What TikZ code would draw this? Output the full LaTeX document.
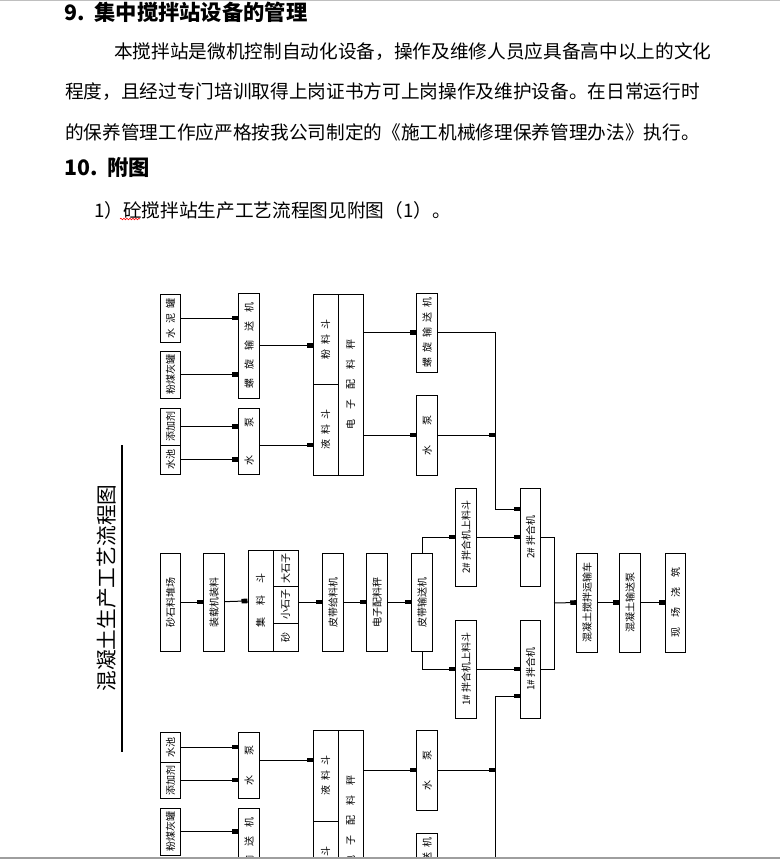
\documentclass[tikz,border=0pt]{standalone}
\usepackage{fontspec}
\setmainfont{Noto Sans CJK SC}
\usepackage{graphicx}
\usepackage{tikz}
\usetikzlibrary{arrows.meta,decorations.pathmorphing}
\newcommand{\boxfont}{\fontsize{10}{12}\selectfont}
\newcommand{\bodyfont}{\fontsize{18.67}{22}\selectfont}
\newcommand{\headfont}{\fontsize{21.3}{24}\selectfont\bfseries}
\newcommand{\titlefont}{\fontsize{20.7}{24}\selectfont}
\newcommand{\vt}[1]{\rotatebox{90}{#1}}
\newcommand{\chgap}[1]{\hspace{#1pt}}
\tikzset{
  vbox/.style={draw,line width=1pt,inner sep=0pt,minimum width=20.5pt,font=\boxfont},
  wbox/.style={vbox,minimum width=25pt},
  arr/.style={-{Rectangle[length=6pt,width=4.6pt]},line width=1pt},
  ln/.style={line width=1pt},
  para/.style={anchor=west,inner sep=0pt,font=\bodyfont},
  head/.style={anchor=west,inner sep=0pt,font=\headfont},
}

\begin{document}
\begin{tikzpicture}[x=1pt,y=1pt]
\useasboundingbox (0,0) rectangle (780,-860);
\fill[white] (0,0) rectangle (780,-860);
\draw[black!25,line width=1pt] (0,-0.5) -- (780,-0.5);
\node[head] (h9) at (64,-12) {9.\ \ 集中搅拌站设备的管理};
\node[para] (p1) at (114,-52) {本搅拌站是微机控制自动化设备，操作及维修人员应具备高中以上的文化};
\node[para] (p2) at (65,-92) {程度，且经过专门培训取得上岗证书方可上岗操作及维护设备。在日常运行时};
\node[para] (p3) at (65,-132) {的保养管理工作应严格按我公司制定的《施工机械修理保养管理办法》执行。};
\node[head] (h10) at (64,-167) {10.\ \ 附图};
\node[para] (item) at (94,-210) {1）砼搅拌站生产工艺流程图见附图（1）。};
\draw[red,line width=0.6pt,decorate,decoration={snake,amplitude=0.8pt,segment length=3pt}] (120,-219) -- (140,-219);

\node[rotate=90,font=\titlefont,inner sep=0pt] (title) at (107,-588) {混凝土生产工艺流程图};
\draw[line width=2.4pt] (122,-445) -- (122,-752);

\begin{scope}
\clip (0,0) rectangle (780,-857);
% upper supply group
\node[vbox,minimum height=48pt] (cementA) at (170.5,-318) {\vt{水\chgap{5}泥\chgap{5}罐}};
\node[vbox,minimum height=47pt] (flyashA) at (170.5,-374.5) {\vt{粉煤灰罐}};
\node[vbox,minimum height=37pt] (addA) at (170.5,-426.5) {\vt{添加剂}};
\node[vbox,minimum height=29pt] (poolA) at (170.5,-459.5) {\vt{水池}};
\node[vbox,minimum height=105pt] (screwA) at (249,-345.5) {\vt{螺\chgap{9}旋\chgap{9}输\chgap{9}送\chgap{9}机}};
\node[vbox,minimum height=66pt] (pumpA) at (249,-441) {\vt{水\chgap{28}泵}};
\node[wbox,minimum height=90pt] (powderA) at (325.5,-339) {\vt{粉\chgap{5}料\chgap{5}斗}};
\node[wbox,minimum height=91pt] (liquidA) at (325.5,-429.5) {\vt{液\chgap{5}料\chgap{5}斗}};
\node[wbox,minimum height=181pt] (scaleA) at (350.5,-384.5) {\vt{电\chgap{10}子\chgap{10}配\chgap{10}料\chgap{10}秤}};
\node[vbox,minimum height=79pt] (screwB) at (427,-332.5) {\vt{螺\chgap{5}旋\chgap{5}输\chgap{5}送\chgap{5}机}};
\node[vbox,minimum height=80pt] (pumpB) at (427,-435) {\vt{水\chgap{20}泵}};
\draw[arr] (cementA.east) -- (cementA.east -| screwA.west);
\draw[arr] (flyashA.east) -- (flyashA.east -| screwA.west);
\draw[arr] (addA.east) -- (addA.east -| pumpA.west);
\draw[arr] (poolA.east) -- (poolA.east -| pumpA.west);
\draw[arr] (screwA.east) -- (screwA.east -| powderA.west);
\draw[arr] ([yshift=-4pt]pumpA.east) -- ([yshift=-4pt]pumpA.east -| liquidA.west);
\draw[arr] (screwB.west -| scaleA.east) -- (screwB.west);
\draw[arr] (pumpB.west -| scaleA.east) -- (pumpB.west);

% aggregate line
\node[vbox,minimum height=98pt] (yard) at (170.5,-602) {\vt{砂石料堆场}};
\node[vbox,minimum height=98pt] (loader) at (214,-602) {\vt{装载机装料}};
\node[wbox,minimum height=101pt] (hopperL) at (260.5,-600.5) {\vt{集\chgap{12}料\chgap{12}斗}};
\node[wbox,minimum height=36pt] (big) at (285.5,-568) {\vt{大石子}};
\node[wbox,minimum height=37pt] (small) at (285.5,-604.5) {\vt{小石子}};
\node[wbox,minimum height=28pt] (sand) at (285.5,-637) {\vt{砂}};
\node[vbox,minimum height=98pt] (feeder) at (333,-602) {\vt{皮带给料机}};
\node[vbox,minimum height=98pt] (scaleM) at (377,-602) {\vt{电子配料秤}};
\node[vbox,minimum height=98pt] (belt) at (422,-602) {\vt{皮带输送机}};
\draw[arr] (yard) -- (loader);\draw[arr] (loader) -- (hopperL);
\draw[arr] (small.east |- feeder) -- (feeder.west);
\draw[arr] (feeder) -- (scaleM);\draw[arr] (scaleM) -- (belt);

% mixers
\node[vbox,minimum height=98pt] (hopper2) at (466,-537) {\vt{2\# 拌合机上料斗}};
\node[vbox,minimum height=98pt] (mixer2) at (530.5,-537) {\vt{2\# 拌合机}};
\node[vbox,minimum height=98pt] (hopper1) at (466,-669) {\vt{1\# 拌合机上料斗}};
\node[vbox,minimum height=98pt] (mixer1) at (530.5,-669) {\vt{1\# 拌合机}};
\node[vbox,minimum height=99pt] (truck) at (587,-602.5) {\vt{混凝土搅拌运输车}};
\node[vbox,minimum height=99pt] (pumpC) at (630,-602.5) {\vt{混凝土输送泵}};
\node[vbox,minimum height=99pt] (site) at (675.5,-602.5) {\vt{现\chgap{10}场\chgap{10}浇\chgap{10}筑}};
\draw[arr] (belt.north) |- (hopper2.west);\draw[arr] (belt.south) |- (hopper1.west);
\draw[arr] (hopper2) -- (mixer2);\draw[arr] (hopper1) -- (mixer1);
\coordinate (busA) at (495,-509);
\coordinate (busB) at (495,-696);
\coordinate (merge) at (554,-603);
\draw[ln] (screwB.east) -| (busA);
\draw[arr] (pumpB.east) -- (pumpB.east -| busA);
\draw[arr] (busA) -- (busA -| mixer2.west);
\draw[arr] (busB) -- (busB -| mixer1.west);
\draw[ln] (mixer2.east) -| (merge);\draw[ln] (mixer1.east) -| (merge);
\draw[arr] (merge) -- (truck.west);
\draw[arr] (truck) -- (pumpC);\draw[arr] (pumpC) -- (site);

% lower supply group
\node[vbox,minimum height=30pt] (poolC) at (170.5,-747) {\vt{水池}};
\node[vbox,minimum height=36pt] (addC) at (170.5,-780) {\vt{添加剂}};
\node[vbox,minimum height=47pt] (flyashC) at (170.5,-831.5) {\vt{粉煤灰罐}};
\node[vbox,minimum height=66pt] (pumpD) at (249,-765) {\vt{水\chgap{20}泵}};
\node[vbox,minimum height=105pt] (screwD) at (249,-860.5) {\vt{螺\chgap{9}旋\chgap{9}输\chgap{9}送\chgap{9}机}};
\node[wbox,minimum height=91pt] (liquidC) at (325.5,-775.5) {\vt{液\chgap{5}料\chgap{5}斗}};
\node[wbox,minimum height=90pt] (powderC) at (325.5,-866) {\vt{粉\chgap{5}料\chgap{5}斗}};
\node[wbox,minimum height=181pt] (scaleC) at (350.5,-820.5) {\vt{电\chgap{10}子\chgap{10}配\chgap{10}料\chgap{10}秤}};
\node[vbox,minimum height=80pt] (pumpE) at (427,-770) {\vt{水\chgap{20}泵}};
\node[vbox,minimum height=79pt] (screwE) at (427,-872.5) {\vt{螺\chgap{5}旋\chgap{5}输\chgap{5}送\chgap{5}机}};
\draw[arr] (poolC.east) -- (poolC.east -| pumpD.west);
\draw[arr] (addC.east) -- (addC.east -| pumpD.west);
\draw[arr] (flyashC.east) -- (flyashC.east -| screwD.west);
\draw[arr] ([yshift=5pt]pumpD.east) -- ([yshift=5pt]pumpD.east -| liquidC.west);
\draw[arr] (screwD.east) -- (screwD.east -| powderC.west);
\draw[arr] (pumpE.west -| scaleC.east) -- (pumpE.west);
\draw[arr] (screwE.west -| scaleC.east) -- (screwE.west);
\draw[arr] (pumpE.east) -- (pumpE.east -| busB);
\draw[ln] (screwE.east) -| (busB);
\end{scope}
\draw[black!38,line width=2pt] (0,-858) -- (780,-858);
\end{tikzpicture}
\end{document}
